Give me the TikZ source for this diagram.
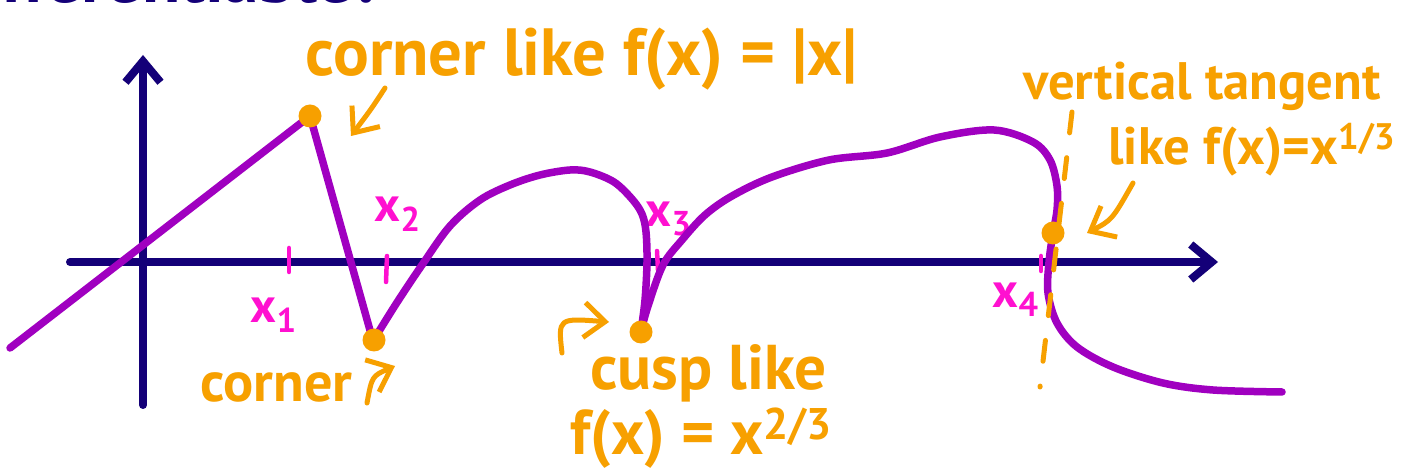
\documentclass[tikz,border=0pt]{standalone}
\usepackage{fontspec}
\setmainfont{PT Sans}
\usetikzlibrary{arrows.meta}
\definecolor{axisnavy}{RGB}{20,0,120}
\definecolor{curvepurple}{RGB}{160,0,192}
\definecolor{noteorange}{RGB}{247,160,0}
\definecolor{tickpink}{RGB}{255,16,208}

\begin{document}
\begin{tikzpicture}[x=0.02cm, y=-0.02cm, >={Straight Barb[length=0.42cm, width=0.7cm]}, line cap=round, line join=round]
    \tikzstyle{axisline}=[draw=axisnavy, line width=0.16cm]
    \tikzstyle{curve}=[draw=curvepurple, line width=0.15cm]
    \tikzstyle{dot}=[circle, fill=noteorange, inner sep=0pt, minimum size=0.46cm]
    \tikzstyle{note}=[text=noteorange, inner sep=0pt, font=\bfseries\fontsize{36}{40}\selectfont]
    \tikzstyle{notearrow}=[->, draw=noteorange, line width=0.1cm]
    \tikzstyle{tickmark}=[draw=tickpink, line width=0.09cm]
    \tikzstyle{tickname}=[text=tickpink, inner sep=0pt, font=\bfseries\fontsize{28}{30}\selectfont]

    \clip (0,0) rectangle (1419,475);
    \fill[white] (0,0) rectangle (1419,475);

    \node[anchor=base east, text=axisnavy, inner sep=0pt, font=\bfseries\fontsize{40}{44}\selectfont] (title) at (385,3) {differentiable?};

    % axes
    \coordinate (xStart) at (70,262);
    \coordinate (xEnd) at (1218,262);
    \coordinate (yStart) at (143,405);
    \coordinate (yEnd) at (143,55);
    \draw[axisline, ->] (xStart) -- (xEnd);
    \draw[axisline, ->] (yStart) -- (yEnd);

    % ticks on the x axis
    \draw[tickmark] (289,248) -- (289,272);
    \draw[tickmark] (387,256) -- (386,282);
    \draw[tickmark] (657,251) -- (658,270);
    \draw[tickmark] (1041,256) -- (1041,271);
    \node[tickname] (lblX1) at (274,315) {x\textsubscript{1}};
    \node[tickname] (lblX2) at (398,214) {x\textsubscript{2}};
    \node[tickname] (lblX3) at (669,219) {x\textsubscript{3}};
    \node[tickname] (lblX4) at (1016,300) {x\textsubscript{4}};

    % the function
    \draw[curve] (10,348) -- (310,116) -- (373,341);
    \draw[curve] plot[smooth, tension=0.55] coordinates {(373,341) (396,304) (422,265) (450,226) (480,200) (510,185) (540,175) (570,170) (590,172) (614,182) (632,199) (642,214) (646,232) (647,262) (645,300) (641,331)};
    \draw[curve] plot[smooth, tension=0.55] coordinates {(641,331) (648,306) (663,265) (682,240) (705,215) (732,196) (772,177) (829,160) (887,153) (940,137) (994,130) (1033,142) (1050,160) (1057,186) (1057,210) (1053,233) (1049,262) (1048,293) (1057,323) (1077,347) (1113,367) (1163,383) (1213,390) (1282,392)};

    % vertical tangent
    \coordinate (dashTop) at (1072,112);
    \coordinate (dashBot) at (1040,387);
    \draw[draw=noteorange, line width=0.1cm, dash pattern=on 0.42cm off 0.5cm] (dashTop) -- (dashBot);

    \node[dot] (cornerA) at (310,116) {};
    \node[dot] (cornerB) at (374,340) {};
    \node[dot] (cuspPt) at (641,332) {};
    \node[dot] (vertPt) at (1053,233) {};

    % notes
    \node[note, anchor=base west, font=\bfseries\fontsize{38}{40}\selectfont] (noteCornerA) at (305,76) {corner like f(x) = |x|};
    \node[note, anchor=base west, font=\bfseries\fontsize{32}{36}\selectfont] (noteCornerB) at (200,402) {corner};
    \node[note, anchor=base west] (noteCusp) at (590,390) {cusp like};
    \node[note, anchor=base west] (noteCuspEq) at (570,455) {f(x) = x\textsuperscript{2/3}};
    \node[note, anchor=base west, font=\bfseries\fontsize{30}{34}\selectfont] (noteVert) at (1023,100) {vertical tangent};
    \node[note, anchor=base west, font=\bfseries\fontsize{30}{34}\selectfont] (noteVertEq) at (1108,165) {like f(x)=x\textsuperscript{1/3}};

    \coordinate (arrA1) at (385,88);
    \coordinate (arrA2) at (351,136);
    \coordinate (arrB1) at (367,403);
    \coordinate (arrB2) at (395,366);
    \coordinate (arrC1) at (562,353);
    \coordinate (arrC2) at (609,322);
    \coordinate (arrD1) at (1133,183);
    \coordinate (arrD2) at (1087,233);
    \draw[notearrow] (arrA1) .. controls (372,108) .. (arrA2);
    \draw[notearrow] (arrB1) .. controls (372,376) .. (arrB2);
    \draw[notearrow] (arrC1) .. controls (558,318) .. (arrC2);
    \draw[notearrow] (arrD1) .. controls (1112,220) .. (arrD2);
\end{tikzpicture}
\end{document}
